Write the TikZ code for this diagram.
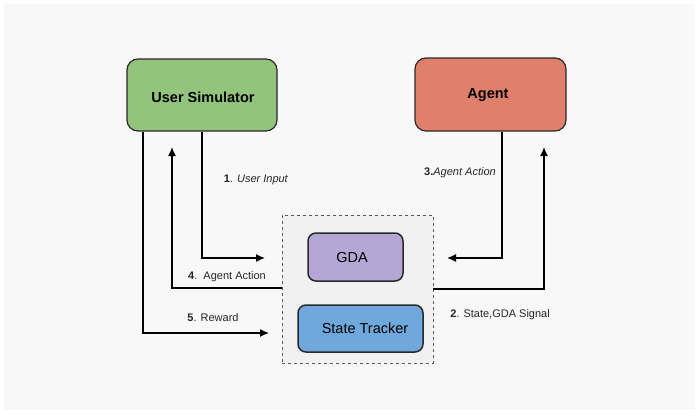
\documentclass[tikz,border=0pt]{standalone}
\usepackage{fontspec}
\setmainfont{Liberation Sans}
\usetikzlibrary{arrows.meta}
\definecolor{usgreen}{HTML}{93C47D}
\definecolor{agred}{HTML}{E07F6C}
\definecolor{gdapurple}{HTML}{B4A7D6}
\definecolor{stblue}{HTML}{6FA8DC}
\definecolor{panel}{HTML}{F8F8F8}
\definecolor{dbox}{HTML}{F1F1F1}
\definecolor{edge}{HTML}{2A2A2A}
\tikzset{
  bigbox/.style={draw=edge, line width=1.2pt, rounded corners=11pt, inner sep=0pt, font=\fontsize{14.5}{16}\selectfont\bfseries},
  smallbox/.style={draw=edge, line width=1.5pt, rounded corners=8pt, inner sep=0pt, font=\fontsize{14.5}{16}\selectfont},
  conn/.style={draw=black, line width=1.4pt, -{Latex[length=9pt,width=8pt]}},
  lbl/.style={font=\fontsize{11}{13}\selectfont, text=black!85, inner sep=0pt},
}
\begin{document}
\begin{tikzpicture}[x=1pt,y=-1pt]
\useasboundingbox (0,0) rectangle (700,415);
\fill[white] (0,0) rectangle (700,415);
\fill[panel] (4,4) rectangle (695,410);

% dashed container
\node[draw=black!65, dashed, line width=0.8pt, fill=dbox, minimum width=151pt, minimum height=148pt, inner sep=0pt] (cont) at (357.5,289) {};

% main boxes
\node[bigbox, fill=usgreen, minimum width=150pt, minimum height=72pt] (us) at (202,95) {};
\node[font=\fontsize{14.5}{16}\selectfont\bfseries] (ustxt) at (203,97) {User Simulator};
\node[bigbox, fill=agred, minimum width=151pt, minimum height=73pt] (ag) at (490.5,94.5) {};
\node[font=\fontsize{14.5}{16}\selectfont\bfseries] (agtxt) at (488,95) {Agent};

\node[smallbox, fill=gdapurple, minimum width=95pt, minimum height=48pt] (gda) at (355.5,257) {};
\node[font=\fontsize{14.5}{16}\selectfont] (gdatxt) at (352,258) {GDA};
\node[smallbox, fill=stblue, minimum width=125pt, minimum height=47pt] (st) at (360.5,328.5) {};
\node[font=\fontsize{14.5}{16}\selectfont] (sttxt) at (365,328) {State Tracker};

% free ends
\coordinate (uiend) at (265,258);
\coordinate (rwend) at (269,333);
\coordinate (aaup) at (172,147);
\coordinate (agend) at (447,258);
\coordinate (sgup) at (544,147);

% 1. User Input
\draw[conn] (us.south -| 202,0) |- (uiend);
% 5. Reward
\draw[conn] (us.south -| 143,0) |- (rwend);
% 4. Agent Action
\draw[conn] (cont.west |- 0,288) -| (aaup);
% 3. Agent Action
\draw[conn] (ag.south -| 502,0) |- (agend);
% 2. State,GDA Signal
\draw[conn] (cont.east |- 0,289) -| (sgup);

% labels
\node[lbl] (l1) at (256,180) {\textbf{1}. \textit{User Input}};
\node[lbl] (l4) at (227,277) {\textbf{4}.\ \ Agent Action};
\node[lbl] (l5) at (213,318) {\textbf{5}. Reward};
\node[lbl] (l3) at (460,173) {\textbf{3.}\textit{Agent Action}};
\node[lbl] (l2) at (500,315) {\textbf{2}. State,GDA Signal};
\end{tikzpicture}
\end{document}
